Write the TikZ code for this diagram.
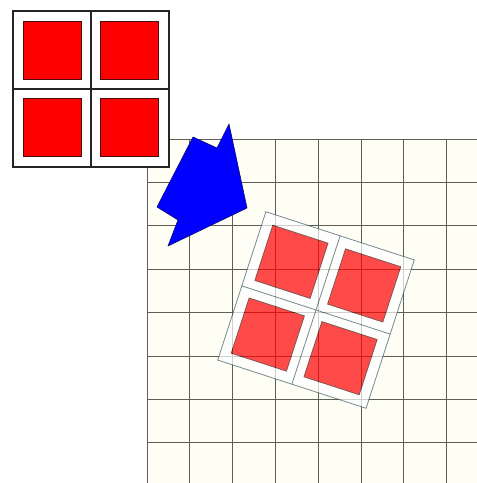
\documentclass[tikz,border=0pt]{standalone}
\usetikzlibrary{backgrounds}
\definecolor{paneRed}{HTML}{FF0000}
\definecolor{paneLine}{HTML}{4A0C0C}
\definecolor{frameLine}{HTML}{222629}
\definecolor{ghostLine}{HTML}{3C5A66}
\definecolor{gridFill}{HTML}{FEFEF5}
\definecolor{gridLine}{HTML}{5E5E56}
\definecolor{arrowBlue}{HTML}{0000FF}
\definecolor{arrowLine}{HTML}{0A0A70}
\tikzset{
  % ---- window ----------------------------------------------------
  frame/.style    = {rectangle, draw=frameLine, line width=1.3pt, fill=white,
                     inner sep=0pt, minimum size=156pt},
  bar/.style      = {draw=frameLine, line width=1.3pt},
  pane/.style     = {rectangle, draw=paneLine, line width=.8pt, fill=paneRed,
                     inner sep=0pt, minimum size=58pt},
  ghost/.style    = {transparency group, opacity=.7},
  % ---- grid paper ------------------------------------------------
  paper/.style    = {fill=gridFill},
  rules/.style    = {draw=gridLine, line width=.9pt, xstep=42.8, ystep=43.4},
  % ---- arrow -----------------------------------------------------
  wedge/.style    = {fill=arrowBlue, draw=arrowLine, line width=.6pt,
                     line join=round},
}
\begin{document}
\begin{tikzpicture}[x=1pt,y=1pt]
  \useasboundingbox (0,0) rectangle (477,483);
  \begin{scope}[shift={(147,344)}]
    \fill[paper] (0,0) rectangle (330,-344);
    \draw[rules] (0,-344) grid (330,0);
  \end{scope}
  % rotated copy
  \begin{scope}[shift={(316,173)}, rotate=-18, transform shape, ghost]
    \node[frame, draw=ghostLine, line width=.8pt] (win2) at (0,0) {};
    \draw[bar, draw=ghostLine, line width=.8pt] (win2.north) -- (win2.south);
    \draw[bar, draw=ghostLine, line width=.8pt] (win2.west) -- (win2.east);
    \node[pane] (nw2) at (-38.25,38.25) {};
    \node[pane] (ne2) at (38.25,38.25) {};
    \node[pane] (sw2) at (-38.25,-38.25) {};
    \node[pane] (se2) at (38.25,-38.25) {};
  \end{scope}
  \draw[wedge] (193,346) -- (217,335) -- (229,359) -- (247,275)
    -- (168,237) -- (178,263) -- (157,276) -- cycle;
  % original
  \begin{scope}[shift={(91,394)}]
    \node[frame] (win) at (0,0) {};
    \draw[bar] (win.north) -- (win.south);
    \draw[bar] (win.west) -- (win.east);
    \node[pane] (nw) at (-38.25,38.25) {};
    \node[pane] (ne) at (38.25,38.25) {};
    \node[pane] (sw) at (-38.25,-38.25) {};
    \node[pane] (se) at (38.25,-38.25) {};
  \end{scope}
\end{tikzpicture}
\end{document}
